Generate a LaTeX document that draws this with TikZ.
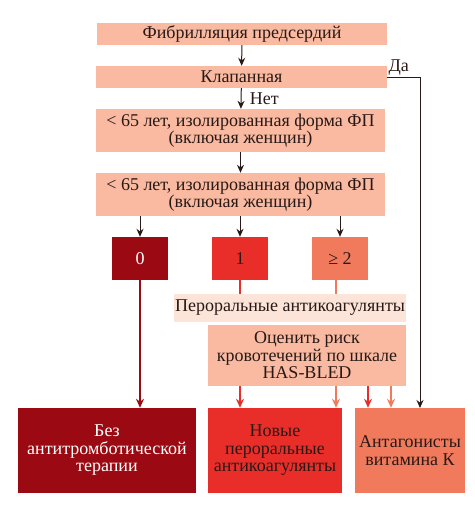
\documentclass[tikz,border=0pt]{standalone}
\usepackage{fontspec}
\setmainfont{Liberation Serif}
\usetikzlibrary{arrows.meta}

\definecolor{pale}{RGB}{249,186,161}
\definecolor{paler}{RGB}{252,228,216}
\definecolor{darkred}{RGB}{155,10,18}
\definecolor{midred}{RGB}{233,46,42}
\definecolor{salmon}{RGB}{241,122,92}
\definecolor{ink}{RGB}{40,25,22}

\tikzset{
    box/.style={fill=pale,inner sep=0pt,align=center,text=ink,font=\fontsize{18}{17.5}\selectfont},
    score/.style={inner sep=0pt,minimum width=56pt,minimum height=43pt,font=\fontsize{18}{18}\selectfont},
    result/.style={inner sep=0pt,minimum height=85pt,align=center,text=ink,font=\fontsize{18}{17.5}\selectfont},
    arr/.style={-{Stealth[length=8pt,width=7pt]},line width=1pt,ink},
    thick line/.style={line width=2.5pt},
    tip/.style={-{Stealth[length=9pt,width=8pt]}},
}

\begin{document}
\begin{tikzpicture}[x=1pt,y=-1pt]
    \useasboundingbox (0,0) rectangle (474,506);

    % question boxes
    \node[box,minimum width=290pt,minimum height=22pt](fib) at (242,34){Фибрилляция предсердий};
    \node[box,minimum width=291pt,minimum height=22pt](valve) at (241.5,77){Клапанная};
    \node[box,minimum width=289pt,minimum height=43pt](age1) at (240.5,130.5){< 65 лет, изолированная форма ФП\\(включая женщин)};
    \node[box,minimum width=289pt,minimum height=43pt](age2) at (240.5,194.5){< 65 лет, изолированная форма ФП\\(включая женщин)};

    % scores
    \node[score,fill=darkred,text=white](s0) at (140,258.5){0};
    \node[score,fill=midred,text=ink](s1) at (240,258.5){1};
    \node[score,fill=salmon,text=ink](s2) at (340,258.5){≥ 2};

    \node[box,fill=paler,minimum width=232pt,minimum height=28pt](oac) at (290,308){Пероральные антикоагулянты};
    \node[box,minimum width=198pt,minimum height=61pt](hasbled) at (307,355.5){Оценить риск\\кровотечений по шкале\\HAS-BLED};

    % results
    \node[result,fill=darkred,text=white,minimum width=178pt](none) at (107,450.5){Без\\антитромботической\\терапии};
    \node[result,fill=midred,minimum width=134pt](noac) at (275,450.5){Новые\\пероральные\\антикоагулянты};
    \node[result,fill=salmon,minimum width=110pt](vka) at (410,450.5){Антагонисты\\витамина К};

    \coordinate (yes) at (420,408);

    \draw[arr](fib)--(valve);
    \draw[arr](valve)--node[right,xshift=5pt,text=ink,font=\fontsize{18}{18}\selectfont]{Нет}(age1);
    \draw[arr](age1)--(age2);
    \draw[arr](valve.east)node[above right,inner sep=1pt,text=ink,font=\fontsize{18}{18}\selectfont]{Да}-|(yes);

    \draw[arr](age2.south -| s0)--(s0);
    \draw[arr](age2.south -| s1)--(s1);
    \draw[arr](age2.south -| s2)--(s2);

    \draw[thick line,darkred,tip](s0)--(none.north -| s0);
    \draw[thick line,midred](s1)--(oac.north -| s1);
    \draw[thick line,salmon]([xshift=-4pt]s2.south)--([xshift=-4pt]oac.north -| s2);

    \draw[thick line,midred,tip](hasbled.south -| s1)--(noac.north -| s1);
    \draw[thick line,salmon,tip]([xshift=-4pt]hasbled.south -| s2)--([xshift=-4pt]noac.north -| s2);
    \draw[thick line,midred,tip]([xshift=-42pt]hasbled.south -| vka)--([xshift=-42pt]vka.north);
    \draw[thick line,salmon,tip]([xshift=-19pt]hasbled.south -| vka)--([xshift=-19pt]vka.north);
\end{tikzpicture}
\end{document}
